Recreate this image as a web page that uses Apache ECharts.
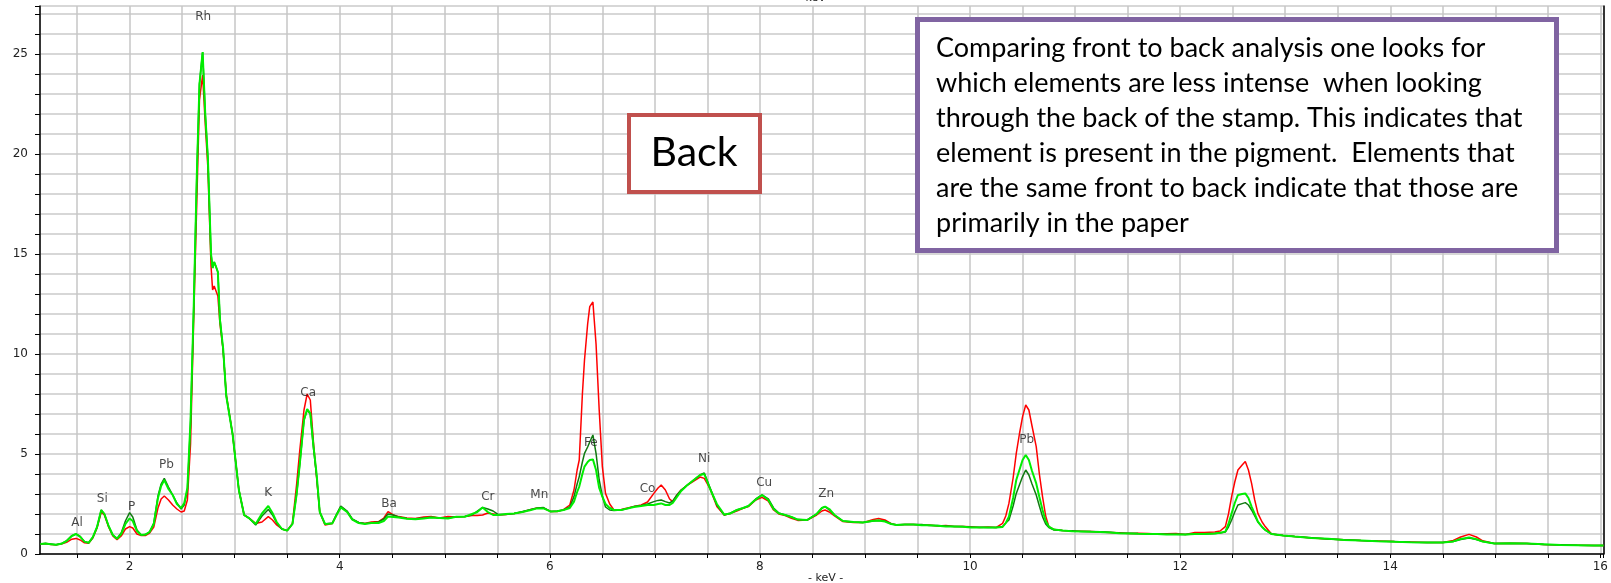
<!DOCTYPE html>
<html>
<head>
<meta charset="utf-8">
<title>XRF spectrum – Back</title>
<script src="https://cdn.jsdelivr.net/npm/echarts@6/dist/echarts.min.js"></script>
<style>
  html, body { margin: 0; padding: 0; background: #ffffff; }
  #chart { width: 1611px; height: 583px; }
</style>
</head>
<body>
<div id="chart"></div>
<script>
// Energy axis (keV) shared by the three spectra
const energy = [
  1.15,1.20,1.25,1.30,1.35,1.40,1.45,1.49,1.53,1.57,
  1.61,1.65,1.69,1.73,1.76,1.80,1.84,1.88,1.92,1.96,
  2.00,2.03,2.07,2.11,2.15,2.19,2.23,2.27,2.30,2.33,
  2.37,2.41,2.45,2.49,2.52,2.55,2.58,2.61,2.64,2.665,
  2.695,2.72,2.745,2.775,2.79,2.805,2.82,2.84,2.86,2.89,
  2.92,2.98,3.04,3.09,3.14,3.20,3.26,3.32,3.36,3.40,
  3.45,3.50,3.55,3.59,3.62,3.66,3.69,3.72,3.75,3.78,
  3.81,3.86,3.93,3.97,4.01,4.07,4.12,4.18,4.24,4.30,
  4.37,4.42,4.46,4.51,4.56,4.64,4.72,4.80,4.87,4.95,
  5.03,5.11,5.19,5.26,5.31,5.36,5.41,5.46,5.51,5.58,
  5.66,5.74,5.82,5.88,5.94,6.01,6.07,6.13,6.19,6.23,
  6.26,6.28,6.31,6.33,6.36,6.38,6.41,6.44,6.47,6.50,
  6.53,6.57,6.61,6.68,6.74,6.80,6.87,6.93,6.99,7.03,
  7.06,7.10,7.14,7.17,7.21,7.25,7.31,7.37,7.43,7.47,
  7.50,7.53,7.59,7.66,7.72,7.78,7.84,7.89,7.96,8.02,
  8.08,8.13,8.18,8.24,8.30,8.36,8.45,8.54,8.59,8.62,
  8.66,8.71,8.79,8.89,8.98,9.08,9.13,9.19,9.25,9.30,
  9.38,9.46,9.54,9.61,9.69,9.77,9.85,9.93,10.01,10.09,
  10.17,10.25,10.31,10.34,10.37,10.41,10.44,10.47,10.50,10.53,
  10.56,10.59,10.63,10.66,10.69,10.72,10.75,10.80,10.88,10.97,
  11.06,11.15,11.24,11.33,11.42,11.51,11.60,11.69,11.78,11.87,
  11.96,12.05,12.14,12.23,12.33,12.38,12.43,12.46,12.49,12.52,
  12.55,12.59,12.62,12.65,12.68,12.71,12.74,12.78,12.81,12.87,
  12.98,13.09,13.25,13.41,13.56,13.72,13.88,14.04,14.19,14.35,
  14.50,14.60,14.67,14.75,14.82,14.88,14.99,15.14,15.30,15.46,
  15.62,15.78,15.94,16.03
];

// Front spectrum (red)
const frontCounts = [
  0.50,0.52,0.48,0.46,0.50,0.58,0.74,0.78,0.70,0.56,
  0.54,0.80,1.30,2.10,1.95,1.35,0.90,0.72,0.90,1.25,
  1.37,1.30,1.00,0.92,0.92,1.05,1.35,2.30,2.75,2.90,
  2.70,2.45,2.25,2.10,2.15,2.70,5.50,11.7,17.7,22.7,
  23.95,21.5,19.3,14.4,13.2,13.4,13.4,12.9,11.5,10.2,
  8.0,6.0,3.2,1.95,1.78,1.53,1.60,1.87,1.70,1.45,
  1.25,1.17,1.53,3.50,5.20,7.20,8.00,7.70,5.60,3.80,
  2.10,1.45,1.53,1.95,2.37,2.12,1.72,1.58,1.53,1.60,
  1.62,1.80,2.12,1.95,1.87,1.80,1.78,1.85,1.87,1.80,
  1.87,1.85,1.87,1.92,1.93,1.95,2.05,2.00,1.95,1.98,
  2.03,2.10,2.23,2.30,2.30,2.12,2.12,2.22,2.45,3.20,
  4.20,4.70,8.00,9.70,11.50,12.37,12.60,10.50,7.20,4.37,
  3.03,2.50,2.20,2.23,2.30,2.37,2.45,2.60,3.03,3.30,
  3.45,3.20,2.75,2.62,2.95,3.20,3.45,3.65,3.85,3.78,
  3.50,3.20,2.37,1.95,2.03,2.15,2.28,2.37,2.70,2.83,
  2.65,2.20,2.00,1.92,1.78,1.68,1.70,1.95,2.15,2.20,
  2.10,1.90,1.62,1.58,1.57,1.73,1.78,1.70,1.52,1.45,
  1.48,1.48,1.45,1.45,1.40,1.42,1.38,1.37,1.36,1.33,
  1.35,1.33,1.53,1.90,2.53,3.80,5.03,6.00,6.87,7.45,
  7.20,6.40,5.37,4.00,2.87,1.90,1.37,1.22,1.17,1.15,
  1.14,1.12,1.10,1.08,1.06,1.03,1.04,1.02,1.00,1.01,
  1.02,0.98,1.07,1.08,1.10,1.15,1.37,2.00,2.87,3.60,
  4.20,4.45,4.62,4.20,3.53,2.70,2.03,1.60,1.37,1.00,
  0.93,0.87,0.80,0.75,0.71,0.67,0.65,0.62,0.60,0.57,
  0.58,0.68,0.85,0.98,0.85,0.66,0.53,0.54,0.53,0.48,
  0.45,0.44,0.42,0.42
];

// Back spectrum, first reading (dark green)
const backCountsA = [
  0.50,0.52,0.50,0.46,0.52,0.66,0.92,1.00,0.88,0.62,
  0.56,0.84,1.35,2.20,2.00,1.40,0.95,0.78,1.05,1.65,
  2.07,1.85,1.20,0.95,0.97,1.10,1.55,2.90,3.50,3.78,
  3.35,2.95,2.55,2.25,2.45,3.20,6.50,12.3,19.0,23.5,
  25.1,22.0,19.8,15.0,14.3,14.6,14.4,14.1,11.8,10.2,
  7.9,6.0,3.2,1.95,1.78,1.45,1.90,2.23,1.95,1.55,
  1.25,1.17,1.50,3.00,4.50,6.70,7.20,7.00,5.30,3.90,
  2.10,1.50,1.55,2.00,2.40,2.15,1.75,1.58,1.53,1.55,
  1.60,1.75,2.00,1.95,1.85,1.78,1.76,1.80,1.84,1.80,
  1.80,1.86,1.88,1.95,2.15,2.33,2.25,2.15,1.97,1.98,
  2.03,2.12,2.23,2.30,2.32,2.12,2.15,2.20,2.35,2.87,
  3.50,3.87,4.60,5.03,5.35,5.60,5.95,5.03,3.70,2.90,
  2.35,2.20,2.18,2.20,2.28,2.37,2.42,2.50,2.62,2.68,
  2.70,2.62,2.55,2.65,2.95,3.20,3.45,3.70,3.95,4.05,
  3.65,3.25,2.45,1.95,2.05,2.20,2.30,2.40,2.75,2.95,
  2.75,2.30,2.05,1.95,1.85,1.72,1.70,2.00,2.30,2.37,
  2.20,1.95,1.65,1.60,1.58,1.65,1.68,1.65,1.50,1.46,
  1.48,1.47,1.47,1.43,1.42,1.40,1.38,1.38,1.35,1.34,
  1.33,1.33,1.38,1.55,1.70,2.40,3.03,3.45,3.87,4.20,
  3.95,3.50,2.95,2.40,1.87,1.50,1.32,1.20,1.17,1.16,
  1.13,1.12,1.11,1.09,1.05,1.04,1.02,1.01,1.00,0.99,
  0.99,0.98,1.00,1.00,1.02,1.05,1.10,1.35,1.70,2.10,
  2.45,2.52,2.57,2.45,2.20,1.90,1.60,1.35,1.20,1.00,
  0.93,0.87,0.81,0.75,0.71,0.67,0.64,0.62,0.59,0.57,
  0.58,0.62,0.72,0.80,0.72,0.62,0.53,0.53,0.52,0.48,
  0.46,0.44,0.43,0.42
];

// Back spectrum, second reading (bright green)
const backCountsB = [
  0.50,0.52,0.49,0.46,0.51,0.65,0.90,1.00,0.86,0.62,
  0.56,0.84,1.35,2.20,2.00,1.40,0.95,0.76,1.00,1.50,
  1.78,1.65,1.15,0.95,0.97,1.10,1.50,2.80,3.40,3.70,
  3.25,2.95,2.50,2.30,2.55,3.30,6.70,12.3,19.0,23.5,
  25.1,22.0,19.8,15.0,14.3,14.6,14.4,14.1,11.7,10.3,
  7.9,6.0,3.2,1.95,1.78,1.50,2.03,2.40,2.05,1.60,
  1.25,1.17,1.50,3.00,4.50,6.70,7.25,7.03,5.40,4.00,
  2.10,1.50,1.53,1.95,2.33,2.10,1.72,1.55,1.50,1.55,
  1.55,1.65,1.87,1.85,1.82,1.76,1.74,1.78,1.82,1.80,
  1.78,1.86,1.86,2.00,2.10,2.32,2.10,1.95,1.95,2.00,
  2.03,2.10,2.20,2.28,2.28,2.12,2.14,2.20,2.30,2.62,
  3.10,3.37,4.00,4.37,4.60,4.70,4.73,4.20,3.30,2.87,
  2.50,2.30,2.20,2.20,2.28,2.35,2.40,2.45,2.45,2.50,
  2.53,2.45,2.45,2.55,2.85,3.15,3.45,3.70,3.95,4.00,
  3.60,3.20,2.50,1.97,2.03,2.20,2.30,2.40,2.72,2.95,
  2.70,2.25,2.03,1.95,1.85,1.72,1.70,2.00,2.30,2.37,
  2.25,1.95,1.65,1.60,1.58,1.66,1.67,1.62,1.50,1.45,
  1.47,1.48,1.44,1.44,1.41,1.38,1.38,1.36,1.33,1.32,
  1.33,1.32,1.35,1.55,1.87,2.80,3.70,4.20,4.70,4.95,
  4.70,4.15,3.53,2.85,2.20,1.65,1.37,1.22,1.17,1.14,
  1.13,1.11,1.10,1.08,1.04,1.03,1.01,1.00,1.00,0.98,
  0.98,0.97,1.00,1.00,1.03,1.06,1.12,1.50,2.03,2.55,
  2.95,3.00,3.03,2.80,2.37,2.00,1.62,1.35,1.20,1.00,
  0.93,0.87,0.80,0.76,0.70,0.68,0.64,0.61,0.59,0.57,
  0.58,0.63,0.75,0.83,0.74,0.62,0.53,0.54,0.52,0.49,
  0.45,0.44,0.42,0.42
];

// Element markers: symbol, line energy (keV) and label height
const elementNames  = ['Al', 'Si', 'P', 'Pb', 'Rh', 'K', 'Ca', 'Ba', 'Cr', 'Mn', 'Fe', 'Co', 'Ni', 'Cu', 'Zn', 'Pb'];
const elementKeV    = [1.50, 1.74, 2.02, 2.35, 2.70, 3.32, 3.70, 4.47, 5.41, 5.90, 6.39, 6.93, 7.47, 8.04, 8.63, 10.54];
const elementLabelY = [1.55, 2.75, 2.35, 4.45, 26.85, 3.05, 8.05, 2.50, 2.85, 2.95, 5.55, 3.25, 4.75, 3.55, 3.00, 5.70];

const noteLines = [
  'Comparing front to back analysis one looks for',
  'which elements are less intense  when looking',
  'through the back of the stamp. This indicates that',
  'element is present in the pigment.  Elements that',
  'are the same front to back indicate that those are',
  'primarily in the paper'
];

const pairs = (vals) => energy.map((e, i) => [e, vals[i]]);
const labelFont = 'DejaVu Sans, Verdana, sans-serif';

const chart = echarts.init(document.getElementById('chart'), null, { renderer: 'canvas' });

chart.setOption({
  animation: false,
  backgroundColor: '#ffffff',
  grid: { left: 40, right: 1, top: 6, bottom: 29, containLabel: false },
  xAxis: {
    type: 'value',
    min: 1.147,
    max: 16.03,
    minInterval: 0.5,
    maxInterval: 0.5,
    splitNumber: 30,
    axisLine: { show: true, onZero: false, lineStyle: { color: '#000', width: 1.5 } },
    axisTick: { show: true, length: 4, lineStyle: { color: '#000', width: 1 } },
    axisLabel: {
      showMinLabel: false,
      showMaxLabel: true,
      hideOverlap: false,
      interval: 0,
      margin: 7,
      color: '#222',
      fontFamily: labelFont,
      fontSize: 12,
      formatter: (v) => (Math.abs(v / 2 - Math.round(v / 2)) < 1e-6 ? String(Math.round(v)) : '')
    },
    splitLine: { show: true, lineStyle: { color: '#c6c6c6', width: 1.5 } }
  },
  yAxis: [
    {
      type: 'value',
      min: 0,
      max: 27.4,
      interval: 1,
      axisLine: { show: true, onZero: false, lineStyle: { color: '#000', width: 1.5 } },
      axisTick: { show: true, length: 5, lineStyle: { color: '#000', width: 1 } },
      axisLabel: {
        margin: 12,
        color: '#222',
        fontFamily: labelFont,
        fontSize: 12,
        formatter: (v) => (v % 5 === 0 ? String(v) : '')
      },
      splitLine: { show: true, lineStyle: { color: '#cacaca', width: 1.5 } }
    },
    {
      type: 'value',
      position: 'right',
      min: 0,
      max: 27.4,
      interval: 1,
      axisLine: { show: true, onZero: false, lineStyle: { color: '#000', width: 1.5 } },
      axisTick: { show: false },
      axisLabel: { show: false },
      splitLine: { show: false }
    }
  ],
  series: [
    {
      name: 'Front',
      type: 'line',
      data: pairs(frontCounts),
      showSymbol: false,
      lineStyle: { color: '#ff0000', width: 1.5 },
      itemStyle: { color: '#ff0000' },
      z: 3
    },
    {
      name: 'Back A',
      type: 'line',
      data: pairs(backCountsA),
      showSymbol: false,
      lineStyle: { color: '#107a10', width: 1.5 },
      itemStyle: { color: '#107a10' },
      z: 4
    },
    {
      name: 'Back B',
      type: 'line',
      data: pairs(backCountsB),
      showSymbol: false,
      lineStyle: { color: '#00ee00', width: 2 },
      itemStyle: { color: '#00ee00' },
      z: 5
    },
    {
      name: 'Elements',
      type: 'scatter',
      data: elementNames.map((n, i) => ({ value: [elementKeV[i], elementLabelY[i]], name: n })),
      symbolSize: 1,
      itemStyle: { color: 'rgba(0,0,0,0)' },
      label: {
        show: true,
        position: 'inside',
        formatter: (p) => p.name,
        color: '#1a1a1a',
        fontFamily: labelFont,
        fontSize: 12
      },
      z: 6,
      silent: true
    }
  ],
  graphic: [
    {
      type: 'text',
      left: 798,
      top: -7,
      z: 50,
      style: { text: '- keV -', font: '11px DejaVu Sans', fill: '#222' }
    },
    {
      type: 'text',
      left: 808,
      top: 573,
      z: 50,
      style: { text: '- keV -', font: '11px DejaVu Sans', fill: '#222' }
    },
    {
      type: 'rect',
      z: 100,
      shape: { x: 629, y: 115, width: 131, height: 77 },
      style: { fill: '#ffffff', stroke: '#c0504d', lineWidth: 4 }
    },
    {
      type: 'text',
      z: 101,
      x: 694,
      y: 153,
      style: {
        text: 'Back',
        font: '41px Lato',
        fill: '#000',
        textAlign: 'center',
        textVerticalAlign: 'middle'
      }
    },
    {
      type: 'rect',
      z: 100,
      shape: { x: 917.5, y: 19.5, width: 639, height: 231 },
      style: { fill: '#ffffff', stroke: '#8064a2', lineWidth: 5 }
    },
    {
      type: 'text',
      z: 101,
      x: 936,
      y: 31,
      style: {
        text: noteLines.join('\n'),
        font: '27px Lato',
        lineHeight: 35,
        fill: '#000',
        textAlign: 'left',
        textVerticalAlign: 'top'
      }
    }
  ]
});
</script>
</body>
</html>
